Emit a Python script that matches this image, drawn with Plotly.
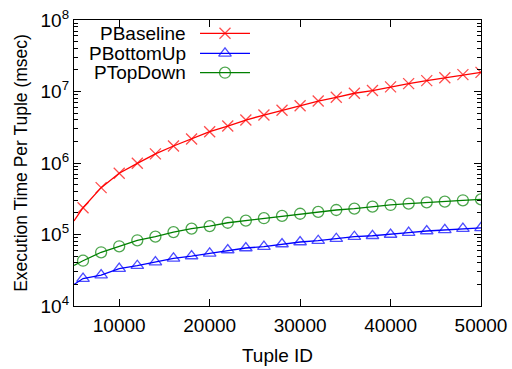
import plotly.graph_objects as go

# Tuple IDs where the curves are sampled (markers every 2000, line starts at 5000)
tuple_ids = [5000, 6000, 8000, 10000, 12000, 14000, 16000, 18000, 20000, 22000,
             24000, 26000, 28000, 30000, 32000, 34000, 36000, 38000, 40000,
             42000, 44000, 46000, 48000, 50000]

# Execution time per tuple (msec)
p_baseline = [1.55e5, 2.37e5, 4.52e5, 7.18e5, 9.9e5, 1.34e6, 1.73e6, 2.17e6,
              2.74e6, 3.29e6, 3.99e6, 4.69e6, 5.46e6, 6.33e6, 7.36e6, 8.3e6,
              9.45e6, 1.03e7, 1.16e7, 1.29e7, 1.42e7, 1.56e7, 1.72e7, 1.85e7]
p_bottomup = [2.0e4, 2.42e4, 2.71e4, 3.33e4, 3.66e4, 4.12e4, 4.65e4, 5.0e4,
              5.46e4, 6.07e4, 6.47e4, 6.76e4, 7.36e4, 7.85e4, 8.19e4, 8.73e4,
              9.31e4, 9.61e4, 1.0e5, 1.06e5, 1.12e5, 1.16e5, 1.21e5, 1.24e5]
p_topdown = [3.7e4, 4.3e4, 5.64e4, 6.84e4, 8.3e4, 9.32e4, 1.08e5, 1.21e5,
             1.31e5, 1.46e5, 1.56e5, 1.69e5, 1.82e5, 1.95e5, 2.07e5, 2.2e5,
             2.3e5, 2.45e5, 2.59e5, 2.7e5, 2.82e5, 2.88e5, 3.01e5, 3.1e5]

series_names = ["PBaseline", "PBottomUp", "PTopDown"]
series_values = [p_baseline, p_bottomup, p_topdown]
colors = ["#ff0000", "#0000ff", "#008000"]
symbols = ["x-thin-open", "triangle-up-open", "circle-open"]

x_ticks = [10000, 20000, 30000, 40000, 50000]
x_tick_text = ["10000", "20000", "30000", "40000", "50000"]
y_ticks = [1e4, 1e5, 1e6, 1e7, 1e8]
y_tick_text = ["10<sup>4</sup>", "10<sup>5</sup>", "10<sup>6</sup>",
               "10<sup>7</sup>", "10<sup>8</sup>"]
# log minor ticks: 2..9 within each decade
y_minor = [m * 10 ** e for e in range(4, 8) for m in range(2, 10)]

FONT = "Liberation Sans, Arial, sans-serif"
FS = 19          # tick labels, key, x title
FS_YTITLE = 17.5

fig = go.Figure()

for name, vals, col, sym in zip(series_names, series_values, colors, symbols):
    # first sample (5000) has no marker, only the line segment
    sizes = [0] + [11] * (len(vals) - 1)
    fig.add_trace(go.Scatter(
        x=tuple_ids, y=vals, mode="lines+markers", name=name,
        line=dict(color=col, width=1.3),
        marker=dict(symbol=sym, size=sizes, color=col,
                    line=dict(color=col, width=1.3)),
        showlegend=False, cliponaxis=True,
    ))

# Key: text right-aligned, sample line with marker to its right
key_rows = [0.9535, 0.8836, 0.8157]
for name, col, sym, ky in zip(series_names, colors, symbols, key_rows):
    fig.add_trace(go.Scatter(
        x=[0.3096, 0.371, 0.4324], y=[ky, ky, ky], mode="lines+markers",
        xaxis="x2", yaxis="y2",
        line=dict(color=col, width=1.3),
        marker=dict(symbol=sym, size=[0, 11, 0], color=col,
                    line=dict(color=col, width=1.3)),
        showlegend=False, hoverinfo="skip",
    ))
    fig.add_annotation(
        x=0.28, y=ky, xref="x2", yref="y2", text=name, showarrow=False,
        xanchor="right", yanchor="middle",
        font=dict(family=FONT, size=FS, color="black"),
    )

axis_common = dict(
    showline=True, linecolor="black", linewidth=1.3, mirror="allticks",
    ticks="inside", tickcolor="black", tickwidth=1, showgrid=False,
    zeroline=False, automargin=False,
    tickfont=dict(family=FONT, size=FS, color="black"),
)

fig.update_layout(
    width=512, height=369,
    margin=dict(l=74, r=31, t=20, b=63),
    paper_bgcolor="white", plot_bgcolor="white",
    font=dict(family=FONT, size=FS, color="black"),
    xaxis=dict(
        range=[5000, 50000], tickmode="array", tickvals=x_ticks,
        ticktext=x_tick_text, ticklen=7, ticklabelstandoff=2,
        title=dict(text="Tuple ID", font=dict(family=FONT, size=FS), standoff=13),
        **axis_common,
    ),
    yaxis=dict(
        type="log", range=[4, 8], tickmode="array", tickvals=y_ticks,
        ticktext=y_tick_text, ticklen=7,
        minor=dict(tickmode="array", tickvals=y_minor, ticks="inside",
                   ticklen=4, tickwidth=1, tickcolor="black", showgrid=False),
        title=dict(text="Execution Time Per Tuple (msec)",
                   font=dict(family=FONT, size=FS_YTITLE), standoff=8),
        **axis_common,
    ),
    xaxis2=dict(range=[0, 1], overlaying="x", visible=False, fixedrange=True),
    yaxis2=dict(range=[0, 1], overlaying="y", visible=False, fixedrange=True),
)

fig.write_html("out.html")
